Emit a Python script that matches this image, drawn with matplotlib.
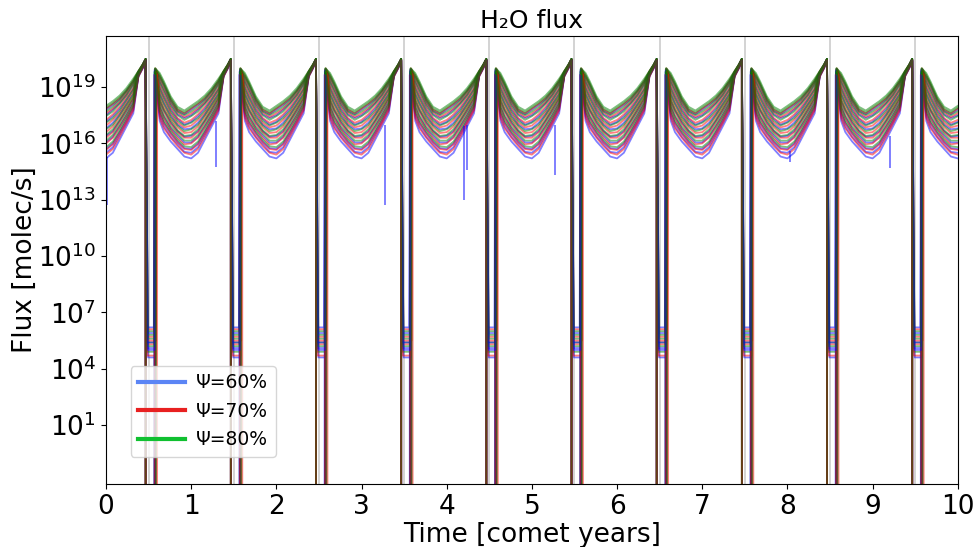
"""
H2O flux over ten comet years, three porosities
"""

import numpy as np
import matplotlib
matplotlib.use("Agg")
import matplotlib.pyplot as plt
from matplotlib.lines import Line2D
from matplotlib.ticker import NullLocator

# phase points inside one comet year (before the perihelion drop / after the return)
PRE_PH = [0.00, 0.08, 0.16, 0.24, 0.32, 0.38, 0.43, 0.465]
POST_PH = [0.63, 0.68, 0.76, 0.84, 0.92]   # first post value sits at the curve's RISE phase
N_YEARS = 10

# log10 flux, one row per run
GREEN_PRE = [
    [18.0, 18.25, 18.55, 18.95, 19.45, 19.85, 20.2, 20.5],
    [17.9, 18.15, 18.45, 18.85, 19.35, 19.85, 20.2, 20.5],
    [17.7, 17.95, 18.3, 18.75, 19.25, 19.8, 20.2, 20.5],
    [17.45, 17.7, 18.1, 18.55, 19.1, 19.8, 20.15, 20.5],
    [17.1, 17.35, 17.75, 18.3, 18.85, 19.75, 20.15, 20.45],
    [16.75, 17.0, 17.5, 18.05, 18.6, 19.7, 20.1, 20.45],
    [16.45, 16.75, 17.25, 17.85, 18.45, 19.7, 20.1, 20.45],
    [16.15, 16.45, 17.0, 17.6, 18.2, 19.65, 20.05, 20.45],
    [15.8, 16.1, 16.7, 17.35, 18.0, 19.6, 20.05, 20.4],
]
GREEN_POST = [
    [20.0, 19.75, 19.3, 18.5, 17.95, 17.75],
    [20.0, 19.65, 19.2, 18.4, 17.85, 17.65],
    [19.95, 19.5, 19.05, 18.25, 17.7, 17.5],
    [19.9, 19.25, 18.75, 18.0, 17.5, 17.25],
    [19.85, 18.9, 18.4, 17.7, 17.2, 16.95],
    [19.8, 18.6, 18.1, 17.4, 16.95, 16.65],
    [19.8, 18.35, 17.8, 17.2, 16.7, 16.4],
    [19.75, 18.05, 17.5, 16.9, 16.5, 16.15],
    [19.7, 17.75, 17.2, 16.65, 16.2, 15.85],
]
GREEN_DROP = [0.478, 0.482, 0.486, 0.49, 0.484, 0.48, 0.492, 0.488, 0.476]
GREEN_RISE = [0.575, 0.58, 0.572, 0.585, 0.578, 0.57, 0.582, 0.576, 0.588]
GREEN_FLOOR = [6.0, 5.4, None, 5.8, 4.9, None, 5.6, 5.2, None]

RED_PRE = [
    [17.85, 18.1, 18.4, 18.8, 19.35, 19.85, 20.2, 20.5],
    [17.6, 17.85, 18.2, 18.65, 19.2, 19.8, 20.15, 20.5],
    [17.25, 17.55, 17.95, 18.45, 18.95, 19.75, 20.15, 20.45],
    [16.95, 17.25, 17.65, 18.2, 18.75, 19.75, 20.15, 20.45],
    [16.6, 16.9, 17.4, 17.95, 18.5, 19.7, 20.1, 20.45],
    [16.3, 16.6, 17.15, 17.75, 18.35, 19.65, 20.1, 20.45],
    [16.0, 16.3, 16.85, 17.45, 18.1, 19.65, 20.05, 20.45],
    [15.65, 15.95, 16.55, 17.2, 17.9, 19.6, 20.05, 20.4],
    [15.4, 15.7, 16.35, 17.05, 17.75, 19.55, 20.0, 20.4],
]
RED_POST = [
    [20.0, 19.6, 19.15, 18.35, 17.8, 17.6],
    [19.95, 19.4, 18.9, 18.15, 17.65, 17.4],
    [19.9, 19.1, 18.6, 17.9, 17.35, 17.1],
    [19.85, 18.8, 18.3, 17.6, 17.1, 16.85],
    [19.8, 18.45, 17.95, 17.3, 16.85, 16.55],
    [19.75, 18.2, 17.7, 17.05, 16.6, 16.3],
    [19.7, 17.9, 17.35, 16.75, 16.3, 15.95],
    [19.65, 17.6, 17.05, 16.5, 16.05, 15.7],
    [19.65, 17.35, 16.8, 16.3, 15.85, 15.5],
]
RED_DROP = [0.48, 0.487, 0.483, 0.491, 0.478, 0.485, 0.489, 0.481, 0.493]
RED_RISE = [0.578, 0.583, 0.574, 0.59, 0.58, 0.586, 0.595, 0.571, 0.6]
RED_FLOOR = [5.7, None, 5.3, 6.1, None, 4.7, 5.5, None, None]

BLUE_PRE = [
    [17.8, 18.05, 18.35, 18.8, 19.3, 19.8, 20.2, 20.5],
    [17.5, 17.8, 18.15, 18.6, 19.15, 19.8, 20.15, 20.5],
    [17.15, 17.45, 17.85, 18.35, 18.9, 19.75, 20.15, 20.45],
    [16.8, 17.1, 17.55, 18.1, 18.65, 19.75, 20.1, 20.45],
    [16.4, 16.65, 17.2, 17.75, 18.35, 19.65, 20.1, 20.45],
    [16.05, 16.35, 16.9, 17.5, 18.15, 19.65, 20.05, 20.45],
    [15.7, 16.0, 16.6, 17.25, 17.95, 19.6, 20.05, 20.4],
    [15.5, 15.8, 16.45, 17.1, 17.8, 19.6, 20.0, 20.4],
    [15.2, 15.5, 16.2, 16.9, 17.6, 19.55, 20.0, 20.4],
]
BLUE_POST = [
    [19.95, 19.55, 19.1, 18.3, 17.75, 17.55],
    [19.95, 19.3, 18.85, 18.1, 17.55, 17.35],
    [19.9, 19.0, 18.5, 17.8, 17.3, 17.0],
    [19.85, 18.65, 18.15, 17.5, 17.0, 16.75],
    [19.75, 18.25, 17.75, 17.1, 16.65, 16.35],
    [19.7, 17.95, 17.4, 16.8, 16.4, 16.05],
    [19.65, 17.65, 17.1, 16.55, 16.1, 15.75],
    [19.65, 17.45, 16.9, 16.35, 15.95, 15.55],
    [19.6, 17.2, 16.6, 16.1, 15.7, 15.3],
]
BLUE_DROP = [0.485, 0.479, 0.49, 0.483, 0.494, 0.488, 0.481, 0.496, 0.492]
BLUE_RISE = [0.573, 0.581, 0.577, 0.569, 0.584, 0.575, 0.579, 0.566, 0.582]
BLUE_FLOOR = [5.9, 5.1, None, 6.2, 4.6, None, 5.4, None, 5.0]

# single-step dropouts in the 60% runs (time, log10 top, log10 bottom)
SPIKE_T = [0.01, 1.29, 3.27, 4.20, 4.24, 5.27, 8.03, 9.20]
SPIKE_TOP = [15.3, 17.2, 17.0, 16.9, 17.0, 17.0, 15.6, 16.4]
SPIKE_LOW = [12.7, 14.75, 12.7, 13.0, 14.6, 14.3, 15.0, 14.7]

LEGEND_LABELS = ["Ψ=60%", "Ψ=70%", "Ψ=80%"]
LEGEND_COLORS = ["#5b85f5", "#e82020", "#10c030"]


def build_run(pre, post, drop, rise, floor):
    t, f = [], []
    low = 0.0 if floor is None else 10.0 ** floor
    for k in range(N_YEARS):
        for p, v in zip(PRE_PH, pre):
            t.append(k + p)
            f.append(10.0 ** v)
        t += [k + drop, k + rise - 0.008, k + rise]
        f += [low, low, 10.0 ** post[0]]
        for p, v in zip(POST_PH, post[1:]):
            t.append(k + p)
            f.append(10.0 ** v)
    t.append(N_YEARS)
    f.append(10.0 ** pre[0])
    return np.array(t), np.array(f)


fig = plt.figure(figsize=(9.79, 5.47), dpi=100)
ax = fig.add_axes([0.1083, 0.1152, 0.87, 0.819])
ax.set_yscale("log", nonpositive="clip")

for k in range(N_YEARS):
    ax.axvline(k + 0.5, color="#d0d0d0", lw=1.3, zorder=0)

groups = [
    ("blue", BLUE_PRE, BLUE_POST, BLUE_DROP, BLUE_RISE, BLUE_FLOOR),
    ("red", RED_PRE, RED_POST, RED_DROP, RED_RISE, RED_FLOOR),
    ("green", GREEN_PRE, GREEN_POST, GREEN_DROP, GREEN_RISE, GREEN_FLOOR),
]
# runs are drawn interleaved (60, 70, 80, 60, ...) so the overlap turns olive
for i in range(len(BLUE_PRE)):
    for color, pres, posts, drops, rises, floors in groups:
        t, f = build_run(pres[i], posts[i], drops[i], rises[i], floors[i])
        ax.plot(t, f, color=color, lw=1.3, alpha=0.5)

ax.vlines(SPIKE_T, 10.0 ** np.array(SPIKE_LOW), 10.0 ** np.array(SPIKE_TOP),
          color="blue", lw=1.4, alpha=0.5)

ax.set_xlim(0, 10)
ax.set_ylim(10 ** -2.14, 10 ** 21.72)
ax.set_xticks(range(0, 11))
ax.set_yticks([10.0 ** e for e in range(1, 20, 3)])
ax.yaxis.set_minor_locator(NullLocator())
ax.tick_params(labelsize=19)

ax.set_xlabel("Time [comet years]", fontsize=19, labelpad=2)
ax.set_ylabel("Flux [molec/s]", fontsize=19, labelpad=0)
ax.set_title("H₂O flux", fontsize=18, pad=6)

handles = [Line2D([0], [0], color=c, lw=3) for c in LEGEND_COLORS]
ax.legend(handles, LEGEND_LABELS, loc="lower left", bbox_to_anchor=(0.018, 0.04),
          fontsize=13.5, handlelength=2.5, handletextpad=0.6)

fig.savefig("out.png", dpi=100)
